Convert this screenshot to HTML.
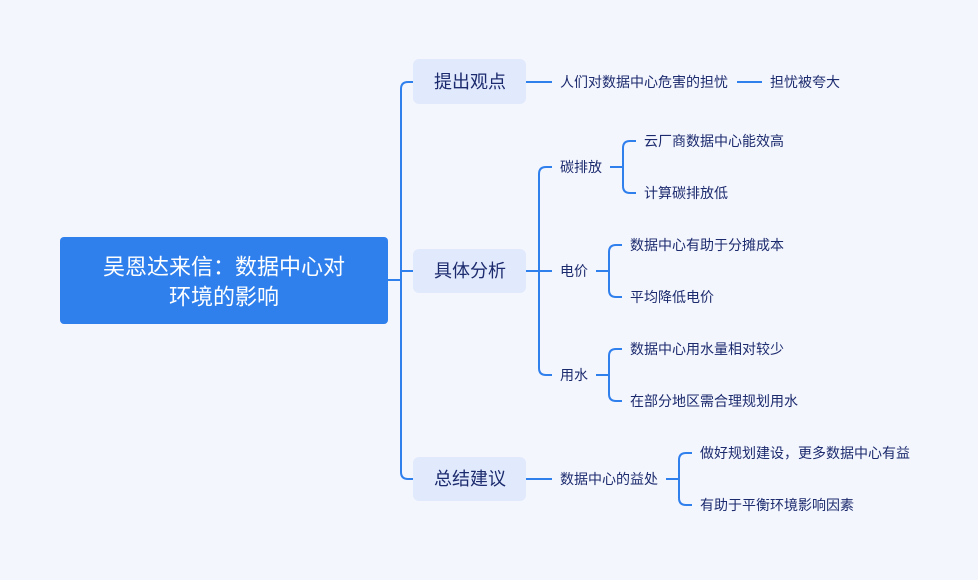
<!DOCTYPE html>
<html><head><meta charset="utf-8"><style>
html,body{margin:0;padding:0;background:#f4f6fe;}
svg{display:block}
text{font-family:"Liberation Sans","Noto Sans CJK SC",sans-serif;fill:#1c2b6e;dominant-baseline:central}
</style></head><body>
<svg width="978" height="580" viewBox="0 0 978 580">
<rect width="978" height="580" fill="#f4f6fe"/>
<g fill="none" stroke="#2f7fed" stroke-width="2">
<path d="M388 280 H401"/>
<path d="M413 82 H408 Q401 82 401 89 V472 Q401 479 408 479 H413"/>
<path d="M401 271 H413"/>
<path d="M526 82 H552"/><path d="M737 82 H762"/>
<path d="M526 271 H552"/>
<path d="M552 167 H546 Q539 167 539 174 V368 Q539 375 546 375 H552"/>
<path d="M610 167 H623"/>
<path d="M636 141 H630 Q623 141 623 148 V186 Q623 193 630 193 H636"/>
<path d="M596 271 H609"/>
<path d="M622 245 H616 Q609 245 609 252 V290 Q609 297 616 297 H622"/>
<path d="M596 375 H609"/>
<path d="M622 349 H616 Q609 349 609 356 V394 Q609 401 616 401 H622"/>
<path d="M526 479 H552"/>
<path d="M666 479 H679"/>
<path d="M692 453 H686 Q679 453 679 460 V498 Q679 505 686 505 H692"/>
</g>
<rect x="60" y="237" width="328" height="87" rx="4" fill="#2f80ed"/>
<text x="224" y="267" text-anchor="middle" font-size="22" style="fill:#fff">吴恩达来信：数据中心对</text>
<text x="224" y="297" text-anchor="middle" font-size="22" style="fill:#fff">环境的影响</text>
<rect x="413" y="59" width="113" height="45" rx="6" fill="#e1e9fc"/>
<rect x="413" y="249" width="113" height="44" rx="6" fill="#e1e9fc"/>
<rect x="413" y="457" width="113" height="44" rx="6" fill="#e1e9fc"/>
<g font-size="18" text-anchor="middle">
<text x="470" y="82">提出观点</text>
<text x="470" y="271">具体分析</text>
<text x="470" y="479">总结建议</text>
</g>
<g font-size="14">
<text x="560" y="82">人们对数据中心危害的担忧</text>
<text x="770" y="82">担忧被夸大</text>
<text x="560" y="167">碳排放</text>
<text x="644" y="141">云厂商数据中心能效高</text>
<text x="644" y="193">计算碳排放低</text>
<text x="560" y="271">电价</text>
<text x="630" y="245">数据中心有助于分摊成本</text>
<text x="630" y="297">平均降低电价</text>
<text x="560" y="375">用水</text>
<text x="630" y="349">数据中心用水量相对较少</text>
<text x="630" y="401">在部分地区需合理规划用水</text>
<text x="560" y="479">数据中心的益处</text>
<text x="700" y="453">做好规划建设，更多数据中心有益</text>
<text x="700" y="505">有助于平衡环境影响因素</text>
</g>
</svg>
</body></html>
